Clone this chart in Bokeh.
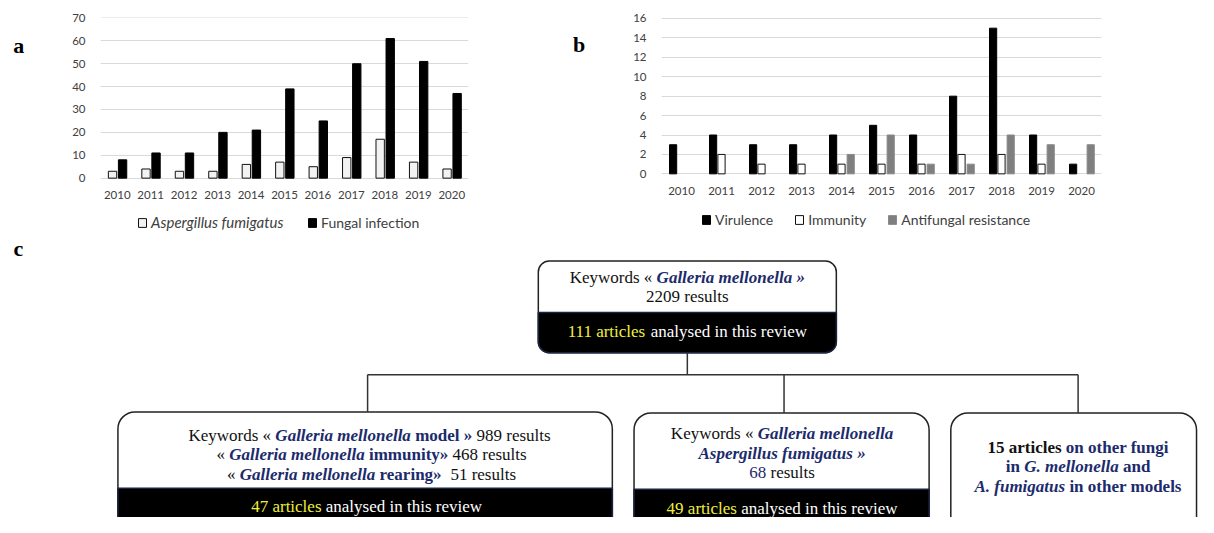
from bokeh.plotting import figure
from bokeh.models import (ColumnDataSource, FactorRange, Range1d, FixedTicker,
                          Legend, LegendItem)
from bokeh.transform import dodge
from bokeh.layouts import column, row
from bokeh.embed import file_html
from bokeh.resources import INLINE
from bokeh.core.properties import value

# ---------------- data ----------------
years = ["2010", "2011", "2012", "2013", "2014", "2015", "2016", "2017", "2018", "2019", "2020"]
a_aspergillus = [3, 4, 3, 3, 6, 7, 5, 9, 17, 7, 4]
a_fungal = [8, 11, 11, 20, 21, 39, 25, 50, 61, 51, 37]
a_ticks = [0, 10, 20, 30, 40, 50, 60, 70]

b_virulence = [3, 4, 3, 3, 4, 5, 4, 8, 15, 4, 1]
b_immunity = [0, 2, 1, 1, 1, 1, 1, 2, 2, 1, 0]
b_antifungal = [0, 0, 0, 0, 2, 4, 1, 1, 4, 3, 3]
b_ticks = [0, 2, 4, 6, 8, 10, 12, 14, 16]

TICK_FONT = "Lato"
GRID = "#d9d9d9"
LBL = "#404040"
SERIF = "Liberation Serif"
ROW_H = 236


def nonzero(vals):
    xs = [y for y, v in zip(years, vals) if v > 0]
    vs = [v for v in vals if v > 0]
    return ColumnDataSource(dict(year=xs, v=vs))


def style_chart(p, ticks):
    p.yaxis.ticker = FixedTicker(ticks=ticks)
    p.xaxis.fixed_location = 0
    for ax in (p.xaxis, p.yaxis):
        ax.axis_line_color = None
        ax.major_tick_line_color = None
        ax.minor_tick_line_color = None
        ax.major_label_text_font = TICK_FONT
        ax.major_label_text_font_size = "11.5px"
        ax.major_label_text_color = LBL
    p.yaxis.major_label_standoff = 9
    p.xaxis.major_label_standoff = 7
    p.xgrid.grid_line_color = None
    p.ygrid.grid_line_color = GRID
    p.ygrid.grid_line_width = 1
    p.outline_line_color = None


def make_legend(items, loc, italic=False, size="14px"):
    return Legend(items=items, location=loc, orientation="horizontal",
                  border_line_color=None, background_fill_alpha=0,
                  padding=0, margin=0, spacing=21, label_standoff=4,
                  glyph_width=10, glyph_height=11, label_height=14,
                  label_text_font=TICK_FONT, label_text_font_size=size,
                  label_text_color=LBL,
                  label_text_font_style="italic" if italic else "normal")


def letter_fig(width, letter, x, y):
    f = figure(width=width, height=ROW_H, x_range=Range1d(0, width),
               y_range=Range1d(ROW_H, 0), output_backend="svg",
               toolbar_location=None, x_axis_type=None, y_axis_type=None,
               min_border=0)
    f.grid.grid_line_color = None
    f.outline_line_color = None
    f.text(x=[x], y=[y], text=[letter], text_font=value(SERIF),
           text_font_style="bold", text_font_size="22px", text_color="#000000",
           text_align="center", text_baseline="middle")
    return f


# ---------------- chart a ----------------
la = letter_fig(60, "a", 18.3, 30)
pa = figure(x_range=FactorRange(factors=years), y_range=Range1d(-25.5, 70.2),
            width=508, height=ROW_H, output_backend="svg", toolbar_location=None,
            min_border_left=40, min_border_right=100, min_border_top=17,
            min_border_bottom=0)
style_chart(pa, a_ticks)
ra1 = pa.vbar(x=dodge("year", -0.14, range=pa.x_range), top="v", width=0.25,
              source=nonzero(a_aspergillus), fill_color="#f2f2f2",
              line_color="#111111", line_width=1)
ra2 = pa.vbar(x=dodge("year", 0.16, range=pa.x_range), top="v", width=0.25,
              source=nonzero(a_fungal), fill_color="#000000",
              line_color="#000000", line_width=1)
pa.add_layout(make_legend([LegendItem(label="Aspergillus fumigatus", renderers=[ra1])],
                          (37, 5), italic=True, size="15px"))
pa.add_layout(make_legend([LegendItem(label="Fungal infection", renderers=[ra2])],
                          (207, 5)))

# ---------------- chart b ----------------
lb = letter_fig(60, "b", 10.5, 29.5)
pb = figure(x_range=FactorRange(factors=years), y_range=Range1d(-6.45, 16.1),
            width=570, height=ROW_H, output_backend="svg", toolbar_location=None,
            min_border_left=33, min_border_right=97, min_border_top=15,
            min_border_bottom=0)
style_chart(pb, b_ticks)
rb1 = pb.vbar(x=dodge("year", -0.21, range=pb.x_range), top="v", width=0.18,
              source=nonzero(b_virulence), fill_color="#000000",
              line_color="#000000", line_width=1)
rb2 = pb.vbar(x=dodge("year", 0.0, range=pb.x_range), top="v", width=0.18,
              source=nonzero(b_immunity), fill_color="#ffffff",
              line_color="#111111", line_width=1)
rb3 = pb.vbar(x=dodge("year", 0.23, range=pb.x_range), top="v", width=0.18,
              source=nonzero(b_antifungal), fill_color="#7f7f7f",
              line_color="#8a8a8a", line_width=1)
pb.add_layout(make_legend([LegendItem(label="Virulence", renderers=[rb1]),
                           LegendItem(label="Immunity", renderers=[rb2]),
                           LegendItem(label="Antifungal resistance", renderers=[rb3])],
                          (40, 8)))

# ---------------- flowchart c ----------------
K = "#111111"
N = "#1c2b6b"
Y = "#f0f03a"
W = "#ffffff"

W_R = dict(zip("abcdefghijklmnopqrstuvwxyz",
               [444, 500, 444, 500, 444, 333, 500, 500, 278, 278, 500, 278, 778,
                500, 500, 500, 500, 333, 389, 278, 500, 500, 722, 500, 500, 444]))
W_B = dict(zip("abcdefghijklmnopqrstuvwxyz",
               [500, 556, 444, 556, 444, 333, 500, 556, 278, 333, 556, 278, 833,
                556, 500, 556, 556, 444, 389, 333, 556, 500, 722, 500, 500, 444]))
W_BI = dict(zip("abcdefghijklmnopqrstuvwxyz",
                [500, 500, 444, 500, 444, 333, 500, 556, 278, 278, 500, 278, 778,
                 556, 500, 500, 500, 389, 389, 278, 556, 444, 667, 500, 444, 389]))
for d in (W_R, W_B, W_BI):
    d.update({" ": 250, ".": 250, "\u00ab": 500, "\u00bb": 500})
    d.update({c: 500 for c in "0123456789"})
W_R.update({"A": 722, "G": 722, "K": 722})
W_B.update({"A": 722, "G": 778, "K": 778})
W_BI.update({"A": 667, "G": 722, "K": 667})
WIDTHS = {"r": W_R, "b": W_B, "bi": W_BI}
STYLE = {"r": "normal", "b": "bold", "bi": "bold italic"}
FS = 17

PC_W, PC_H = 1198, 517 - ROW_H
X0, X1 = 0, 1214          # reference x extent shown in the flowchart canvas
Y0, Y1 = 235.4, 529.5     # reference y extent shown in the flowchart canvas
XK = PC_W / (X1 - X0)     # pixels per data unit (x)


def tw(s, st):
    return sum(WIDTHS[st].get(ch, 500) for ch in s) / 1000.0 * FS / XK


def draw_line(p, cx, cy, segs):
    total = sum(tw(t, st) for t, st, c in segs)
    x = cx - total / 2.0
    for t, st, c in segs:
        lead = len(t) - len(t.lstrip(" "))
        p.text(x=[x + tw(" " * lead, st)], y=[cy], text=[t.strip(" ")],
               text_font=value(SERIF), text_font_style=STYLE[st],
               text_font_size=f"{FS}px", text_color=c, text_align="left",
               text_baseline="middle")
        x += tw(t, st)


pc = figure(x_range=Range1d(X0, X1), y_range=Range1d(Y1, Y0),
            width=PC_W, height=PC_H, output_backend="svg", toolbar_location=None,
            x_axis_type=None, y_axis_type=None, min_border=0)
pc.grid.grid_line_color = None
pc.outline_line_color = None

pc.text(x=[18], y=[248], text=["c"], text_font=value(SERIF),
        text_font_style="bold", text_font_size="22px", text_color="#000000",
        text_align="center", text_baseline="middle")

# boxes: (left, right, top, black_start, bottom, radius)
boxes = [
    (545, 847, 261, 315, 357, 11),
    (119, 620, 419, 499, 560, 17),
    (642, 941, 420, 500, 560, 17),
    (963, 1212, 420, None, 560, 17),
]
for l, r_, t, bs, b, rad in boxes:
    pc.quad(left=l, right=r_, top=t, bottom=b, fill_color="#ffffff",
            line_color="#222222", line_width=1.5, border_radius=rad)
    if bs is not None:
        pc.quad(left=l, right=r_, top=bs, bottom=b, fill_color="#000000",
                line_color="#1a2340", line_width=1.5,
                border_radius=(0, 0, rad, rad))

# connectors
pc.segment(x0=[696, 372, 372, 794, 1092], y0=[357, 380, 380, 380, 380],
           x1=[696, 1092, 372, 794, 1092], y1=[380, 380, 419, 420, 420],
           line_color="#333333", line_width=1.5)

# texts
draw_line(pc, 696, 278, [("Keywords \u00ab ", "r", K), ("Galleria mellonella \u00bb", "bi", N)])
draw_line(pc, 696, 298, [("2209 results", "r", K)])
draw_line(pc, 696, 335, [("111 articles", "r", Y), (" analysed in this review", "r", W)])

draw_line(pc, 374, 444, [("Keywords \u00ab ", "r", K), ("Galleria mellonella", "bi", N),
                         (" model \u00bb", "b", N), (" 989 results", "r", K)])
draw_line(pc, 376, 464, [("\u00ab ", "r", K), ("Galleria mellonella", "bi", N),
                         (" immunity\u00bb", "b", N), (" 468 results", "r", K)])
draw_line(pc, 376, 484, [("\u00ab ", "r", K), ("Galleria mellonella", "bi", N),
                         (" rearing\u00bb", "b", N), ("  51 results", "r", K)])
draw_line(pc, 371, 518, [("47 articles", "r", Y), (" analysed in this review", "r", W)])

draw_line(pc, 792, 442, [("Keywords \u00ab ", "r", K), ("Galleria mellonella", "bi", N)])
draw_line(pc, 792, 462, [("Aspergillus fumigatus \u00bb", "bi", N)])
draw_line(pc, 792, 482, [("68", "r", N), (" results", "r", K)])
draw_line(pc, 792, 520, [("49 articles", "r", Y), (" analysed in this review", "r", W)])

draw_line(pc, 1092, 456, [("15 articles", "b", K), (" on other fungi", "b", N)])
draw_line(pc, 1092, 476, [("in ", "b", N), ("G. mellonella", "bi", N), (" and", "b", N)])
draw_line(pc, 1092, 497, [("A. fumigatus", "bi", N), (" in other models", "b", N)])

layout = column(row(la, pa, lb, pb), pc)
open("out.html", "w").write(file_html(layout, INLINE))
